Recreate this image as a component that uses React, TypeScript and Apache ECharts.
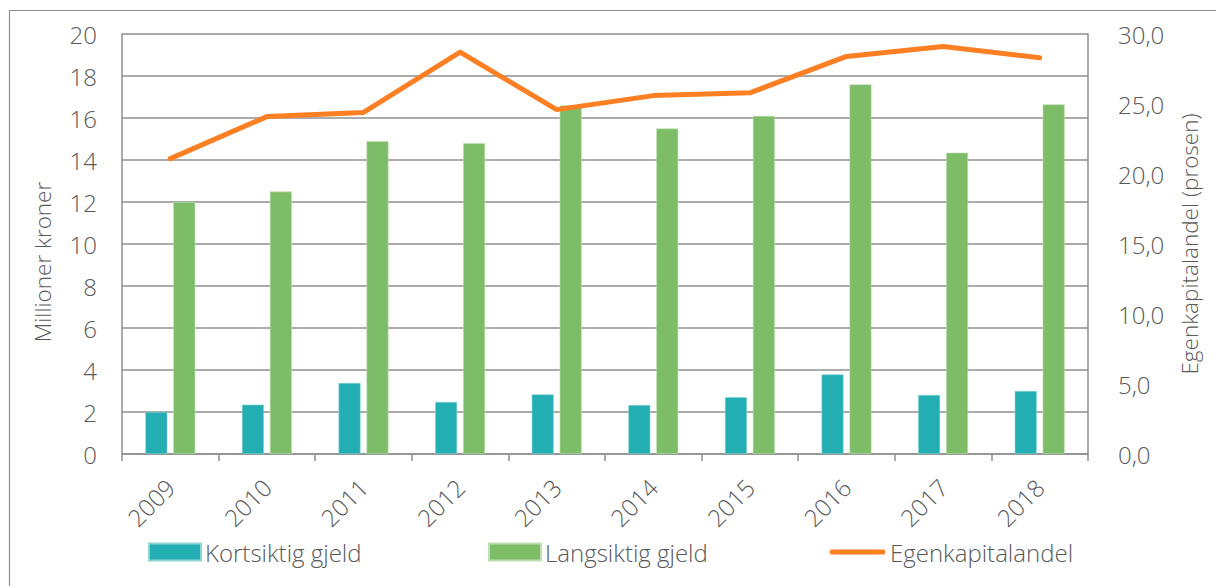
import React, { useEffect, useRef } from "react";
import * as echarts from "echarts";

const years = ["2009", "2010", "2011", "2012", "2013", "2014", "2015", "2016", "2017", "2018"];
const kortsiktig = [2.0, 2.35, 3.38, 2.48, 2.84, 2.33, 2.71, 3.79, 2.81, 3.0];
const langsiktig = [12.0, 12.5, 14.9, 14.8, 16.6, 15.5, 16.1, 17.6, 14.35, 16.65];
const egenkapital = [21.1, 24.1, 24.4, 28.7, 24.6, 25.6, 25.8, 28.4, 29.1, 28.3];

const FONT = "Open Sans";
const FW = 300;
const FS = 24;
const TXT = "#595959";
const GRID = "#8f8f8f";

export default function App() {
  const ref = useRef<HTMLDivElement>(null);
  useEffect(() => {
    if (!ref.current) return;
    const chart = echarts.init(ref.current, null, { renderer: "svg" });
    const txt = { color: TXT, fontSize: FS, fontFamily: FONT, fontWeight: FW };
    const nameTxt = { color: TXT, fontSize: 22.5, fontFamily: FONT, fontWeight: FW };
    chart.setOption({
      animation: false,
      textStyle: { fontFamily: FONT, color: TXT },
      graphic: [
        {
          type: "rect",
          shape: { x: 9.5, y: 10.5, width: 1220, height: 600 },
          style: { fill: "none", stroke: GRID, lineWidth: 1.2 },
          silent: true,
        },
      ],
      grid: { left: 122, right: 128, top: 34, bottom: 132 },
      legend: [
        {
          data: ["Kortsiktig gjeld"],
          left: 148,
          top: 540,
          padding: 0,
          itemWidth: 52,
          itemHeight: 17,
          icon: "rect",
          textStyle: { ...txt, padding: [0, 0, 0, -1] },
        },
        {
          data: ["Langsiktig gjeld"],
          left: 488,
          top: 540,
          padding: 0,
          itemWidth: 52,
          itemHeight: 17,
          icon: "rect",
          textStyle: { ...txt, padding: [0, 0, 0, -1] },
        },
        {
          data: ["Egenkapitalandel"],
          left: 830,
          top: 540,
          padding: 0,
          itemWidth: 55,
          itemHeight: 5,
          icon: "roundRect",
          textStyle: { ...txt, padding: [0, 0, 0, 0] },
        },
      ],
      xAxis: {
        type: "category",
        data: years,
        boundaryGap: true,
        axisLine: { show: true, lineStyle: { color: GRID, width: 1.5 } },
        axisTick: { show: true, length: 7, lineStyle: { color: GRID, width: 1.5 } },
        axisLabel: { rotate: 45, margin: 29, ...txt },
      },
      yAxis: [
        {
          type: "value",
          min: 0,
          max: 20,
          interval: 2,
          name: "Millioner kroner",
          nameLocation: "middle",
          nameGap: 68,
          nameTextStyle: { ...nameTxt, padding: [0, 36, 0, 0] },
          axisLine: { show: true, lineStyle: { color: GRID, width: 1.5 } },
          axisTick: { show: false },
          axisLabel: { margin: 25, ...txt },
          splitLine: { show: true, lineStyle: { color: GRID, width: 1.5 } },
        },
        {
          type: "value",
          min: 0,
          max: 30,
          interval: 5,
          name: "Egenkapitalandel (prosen)",
          nameLocation: "middle",
          nameGap: 90,
          nameTextStyle: nameTxt,
          axisLine: { show: true, lineStyle: { color: GRID, width: 1.5 } },
          axisTick: { show: false },
          axisLabel: {
            margin: 30,
            ...txt,
            formatter: (v: number) => v.toFixed(1).replace(".", ","),
          },
          splitLine: { show: false },
        },
      ],
      series: [
        {
          name: "Kortsiktig gjeld",
          type: "bar",
          data: kortsiktig,
          barWidth: 22,
          barGap: "27%",
          itemStyle: { color: "#22AEB3", borderColor: "#8fd3d3", borderWidth: 0.6 },
        },
        {
          name: "Langsiktig gjeld",
          type: "bar",
          data: langsiktig,
          barWidth: 22,
          barGap: "27%",
          itemStyle: { color: "#7DBD68", borderColor: "#bfe0b2", borderWidth: 0.6 },
        },
        {
          name: "Egenkapitalandel",
          type: "line",
          yAxisIndex: 1,
          data: egenkapital,
          symbol: "none",
          itemStyle: { color: "#FD7F23" },
          lineStyle: { color: "#FD7F23", width: 5, cap: "round", join: "round" },
        },
      ],
    });
    return () => chart.dispose();
  }, []);
  return (
    <div
      ref={ref}
      style={{ position: "fixed", left: 0, top: 0, width: 1216, height: 586, background: "#fff" }}
    />
  );
}
